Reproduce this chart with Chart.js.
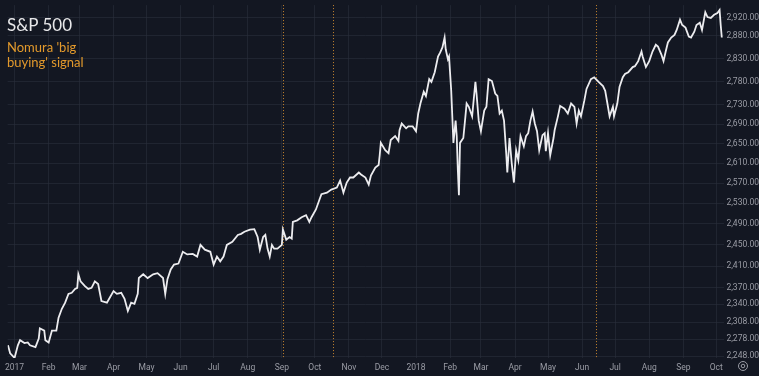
<!DOCTYPE html>
<html>
<head>
<meta charset="utf-8">
<script src="https://cdn.jsdelivr.net/npm/chart.js@4.4.1/dist/chart.umd.min.js"></script>
<style>
  html, body { margin: 0; padding: 0; background: #131722; }
  #wrap { position: relative; width: 759px; height: 376px; overflow: hidden; }
  #title { position: absolute; left: 7px; top: 14px; font: 17px Lato, sans-serif; color: #e8e8ea; }
  #note { position: absolute; left: 7px; top: 40px; font: 13px/15px Lato, sans-serif; color: #e39a2c; }
</style>
</head>
<body>
<div id="wrap">
  <canvas id="chart" width="759" height="376"></canvas>
  <div id="title">S&amp;P 500</div>
  <div id="note">Nomura 'big<br>buying' signal</div>
</div>
<script>
// days since 2017-01-01 for each sampled point
const days = [-6,-4,0,3,5,9,12,14,19,22,23,27,28,31,34,38,40,43,46,49,52,55,57,58,60,64,67,70,73,76,79,84,86,90,93,97,100,103,106,109,112,113,117,121,126,130,135,137,139,142,145,149,153,157,162,166,169,173,178,181,184,187,190,193,198,203,206,209,214,218,221,223,226,228,230,232,234,236,239,243,244,247,250,252,253,257,261,265,268,270,274,277,279,284,288,293,296,299,302,305,308,313,315,319,322,324,328,331,332,333,337,340,342,346,349,350,352,356,358,360,362,365,367,369,372,374,377,379,382,385,387,389,391,392,394,395,397,399,401,402,403,404,405,408,410,411,413,416,419,420,422,424,427,429,431,434,437,439,441,443,445,447,448,450,452,454,456,458,460,463,465,467,469,471,473,475,477,480,482,483,485,487,490,491,494,496,500,503,506,509,511,513,515,518,520,524,527,531,535,537,539,541,544,545,548,550,553,555,558,562,564,567,570,571,574,577,580,583,585,588,590,592,594,597,600,602,605,607,610,613,615,618,620,623,625,628,630,633,636,639,641,642,643];
const closes = [2267,2253,2245,2267,2276,2271,2272,2267,2264,2279,2297,2293,2276,2272,2293,2293,2316,2332,2343,2359,2361,2368,2370,2395,2382,2373,2368,2370,2382,2377,2346,2343,2350,2364,2359,2361,2350,2328,2343,2341,2359,2388,2395,2388,2395,2397,2388,2359,2386,2404,2413,2415,2437,2432,2433,2428,2450,2441,2437,2413,2428,2419,2428,2450,2456,2469,2471,2475,2479,2480,2465,2441,2465,2469,2443,2428,2450,2443,2443,2450,2479,2460,2465,2462,2494,2497,2503,2507,2494,2503,2518,2536,2548,2551,2557,2561,2575,2551,2571,2581,2581,2591,2587,2581,2567,2585,2601,2606,2626,2651,2636,2630,2657,2665,2655,2677,2691,2681,2685,2685,2685,2675,2712,2733,2758,2749,2785,2779,2800,2834,2843,2854,2876,2850,2828,2834,2760,2651,2697,2665,2597,2546,2651,2661,2708,2733,2726,2706,2779,2754,2697,2675,2718,2726,2785,2781,2754,2749,2712,2718,2697,2630,2591,2661,2610,2571,2636,2616,2665,2644,2665,2671,2697,2716,2691,2675,2636,2667,2671,2634,2671,2626,2661,2677,2706,2728,2722,2712,2733,2726,2691,2718,2706,2739,2764,2785,2789,2779,2770,2760,2733,2706,2726,2706,2733,2768,2789,2796,2800,2811,2813,2824,2845,2834,2811,2824,2845,2860,2856,2839,2824,2845,2865,2876,2882,2893,2916,2904,2898,2878,2876,2889,2904,2909,2893,2933,2922,2920,2927,2931,2938,2904,2876];

// month starts (days since 2017-01-01) and their labels
const monthDays = [0,31,59,90,120,151,181,212,243,273,304,334,365,396,424,455,485,516,546,577,608,638];
const monthLabels = ['2017','Feb','Mar','Apr','May','Jun','Jul','Aug','Sep','Oct','Nov','Dec','2018','Feb','Mar','Apr','May','Jun','Jul','Aug','Sep','Oct'];

const priceTicks = [2248,2278,2308,2340,2370,2410,2450,2490,2530,2570,2610,2650,2690,2730,2780,2830,2880,2920];

// Nomura 'big buying' signal dates
const signalDays = [244.5, 289.5, 528.5];

const gridColor = 'rgba(42,46,60,0.6)';
const tickColor = '#9a9ca5';

const signalLines = {
  id: 'signalLines',
  beforeDatasetsDraw(chart) {
    const {ctx, chartArea, scales: {x}} = chart;
    ctx.save();
    ctx.strokeStyle = '#c6852f';
    ctx.lineWidth = 1;
    ctx.setLineDash([1, 2]);
    signalDays.forEach(d => {
      const px = Math.round(x.getPixelForValue(d)) + 0.5;
      ctx.beginPath();
      ctx.moveTo(px, chartArea.top);
      ctx.lineTo(px, chartArea.bottom);
      ctx.stroke();
    });
    ctx.restore();
  }
};

const gearIcon = {
  id: 'gearIcon',
  afterDraw(chart) {
    const ctx = chart.ctx;
    const cx = chart.width - 16, cy = chart.height - 10;
    ctx.save();
    ctx.strokeStyle = tickColor;
    ctx.lineWidth = 1;
    ctx.beginPath(); ctx.arc(cx, cy, 4.5, 0, Math.PI * 2); ctx.stroke();
    ctx.beginPath(); ctx.arc(cx, cy, 1.8, 0, Math.PI * 2); ctx.stroke();
    ctx.restore();
  }
};

new Chart(document.getElementById('chart'), {
  type: 'line',
  data: {
    datasets: [{
      data: days.map((d, i) => ({x: d, y: closes[i]})),
      borderColor: '#ececef',
      borderWidth: 1.8,
      pointRadius: 0,
      tension: 0,
      fill: false
    }]
  },
  options: {
    responsive: false,
    animation: false,
    layout: { padding: 0 },
    plugins: { legend: { display: false }, tooltip: { enabled: false } },
    scales: {
      x: {
        type: 'linear', min: -6.3, max: 645,
        afterBuildTicks: s => { s.ticks = monthDays.map(v => ({value: v})); },
        afterFit: s => { s.height = 18; },
        grid: { color: gridColor, drawTicks: false },
        border: { display: false },
        ticks: {
          color: tickColor, padding: 5, maxRotation: 0, autoSkip: false,
          font: { family: 'Roboto', size: 8.5 },
          callback: (v, i) => monthLabels[i]
        }
      },
      y: {
        type: 'logarithmic', position: 'right', min: 2244.9, max: 2949,
        afterBuildTicks: s => { s.ticks = priceTicks.map(v => ({value: v})); },
        afterFit: s => { s.width = 35; },
        grid: { color: gridColor, drawTicks: false },
        border: { display: false },
        ticks: {
          color: tickColor, padding: 0, crossAlign: 'far', autoSkip: false,
          font: { family: 'Roboto', size: 8.5 },
          callback: v => v.toLocaleString('en-US', {minimumFractionDigits: 2, maximumFractionDigits: 2})
        }
      }
    }
  },
  plugins: [signalLines, gearIcon]
});
</script>
</body>
</html>
